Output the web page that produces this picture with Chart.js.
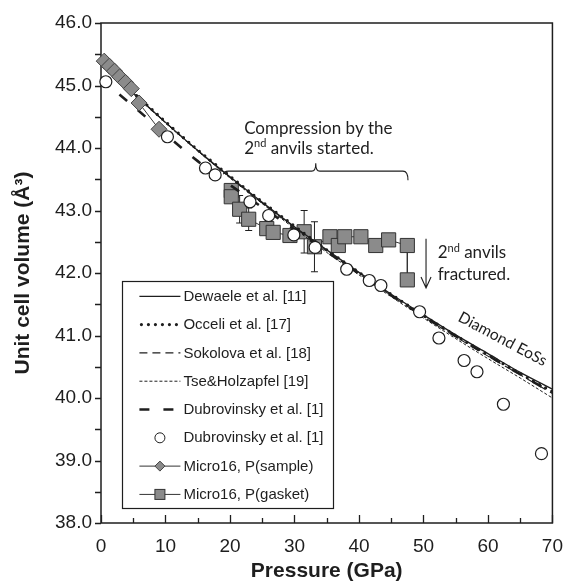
<!DOCTYPE html>
<html><head><meta charset="utf-8">
<script src="https://cdn.jsdelivr.net/npm/chart.js@4.4.0/dist/chart.umd.min.js"></script>
<style>html,body{margin:0;padding:0;background:#fff}#wrap{width:575px;height:584px}</style>
</head><body><div id="wrap"><canvas id="c" width="575" height="584"></canvas></div>
<script>
// ---- data ----
const eosPressure    = [0, 5, 10, 15, 20, 25, 30, 35, 40, 45, 50, 55, 60, 65, 70];
const dewaele        = [45.38, 44.88, 44.41, 43.96, 43.54, 43.13, 42.74, 42.37, 42.01, 41.66, 41.33, 41.01, 40.71, 40.41, 40.14];
const occeli         = [45.38, 44.89, 44.42, 43.97, 43.55, 43.14, 42.75, 42.37, 42.01, 41.66, 41.32, 41.00, 40.69, 40.39, 40.10];
const sokolova       = [45.38, 44.88, 44.41, 43.96, 43.53, 43.12, 42.73, 42.35, 41.99, 41.64, 41.30, 40.98, 40.67, 40.37, 40.07];
const tseHolzapfel   = [45.38, 44.88, 44.40, 43.95, 43.52, 43.11, 42.71, 42.33, 41.97, 41.62, 41.28, 40.95, 40.63, 40.32, 40.00];
const dubrovinskyEos = [45.10, 44.67, 44.22, 43.79, 43.41, 43.05, 42.70, 42.34, 41.99, 41.64, 41.31, 40.99, 40.68, 40.38, 40.08];

const dubrovinskyP = [0.75, 10.3, 16.2, 17.7, 23.1, 26.0, 29.9, 33.2, 38.1, 41.6, 43.4, 49.4, 52.4, 56.3, 58.3, 62.4, 68.3];
const dubrovinskyV = [45.06, 44.18, 43.68, 43.57, 43.14, 42.92, 42.61, 42.41, 42.06, 41.88, 41.80, 41.38, 40.96, 40.60, 40.42, 39.90, 39.11];

const sampleP = [0.5, 1.3, 2.1, 2.9, 3.8, 4.7, 5.9, 9.0];
const sampleV = [45.39, 45.31, 45.23, 45.14, 45.05, 44.95, 44.72, 44.30];

const gasketP   = [20.2, 20.2, 21.5, 22.9, 25.7, 26.7, 29.3, 31.5, 33.1, 35.5, 36.8, 37.8, 40.3, 42.6, 44.6, 47.5, 47.5];
const gasketV   = [43.32, 43.22, 43.02, 42.86, 42.71, 42.65, 42.60, 42.66, 42.42, 42.58, 42.44, 42.58, 42.58, 42.44, 42.53, 42.44, 41.89];
const gasketErr = [0, 0, 0.22, 0.18, 0, 0, 0, 0.34, 0.40, 0, 0, 0, 0, 0, 0, 0, 0];

const xTickValues = [0, 10, 20, 30, 40, 50, 60, 70];
const yTickValues = [38, 39, 40, 41, 42, 43, 44, 45, 46];

const legendLabels = ['Dewaele et al. [11]', 'Occeli et al. [17]', 'Sokolova et al. [18]', 'Tse&Holzapfel [19]',
  'Dubrovinsky et al. [1]', 'Dubrovinsky et al. [1]', 'Micro16, P(sample)', 'Micro16, P(gasket)'];

// ---- helpers ----
const pts = (xs, ys) => xs.map((x, i) => ({x: x, y: ys[i]}));
const INK = '#1e1e1e';
const GREY = '#8b8b8b';
const SANS = '"Liberation Sans", Arial, sans-serif';
const CAL = 'Lato, "Open Sans", sans-serif';

const lineDs = (label, ys, style) => Object.assign({
  label: label, data: pts(eosPressure, ys), showLine: true, pointRadius: 0,
  borderColor: INK, borderWidth: 1.1, fill: false, cubicInterpolationMode: 'monotone', order: 2
}, style);

const datasets = [
  lineDs('Dewaele et al. [11]', dewaele, {borderWidth: 1.3}),
  lineDs('Occeli et al. [17]', occeli, {borderWidth: 3.2, borderDash: [0, 7], borderCapStyle: 'round'}),
  lineDs('Sokolova et al. [18]', sokolova, {borderWidth: 1.1, borderDash: [8, 5]}),
  lineDs('Tse&Holzapfel [19]', tseHolzapfel, {borderWidth: 1, borderDash: [3, 2]}),
  lineDs('Dubrovinsky et al. [1]', dubrovinskyEos, {borderWidth: 2.6, borderDash: [10, 14]}),
  {
    label: 'Dubrovinsky et al. [1]', data: pts(dubrovinskyP, dubrovinskyV), showLine: false,
    pointStyle: 'circle', pointRadius: 6, pointBackgroundColor: '#fff', pointBorderColor: INK,
    pointBorderWidth: 1.2, order: 0, clip: false
  },
  {
    label: 'Micro16, P(sample)', data: pts(sampleP, sampleV), showLine: true,
    borderColor: '#333', borderWidth: 1, pointStyle: 'rectRot', pointRadius: 8,
    pointBackgroundColor: GREY, pointBorderColor: '#444', pointBorderWidth: 1, order: 1, clip: false
  },
  {
    label: 'Micro16, P(gasket)', data: pts(gasketP, gasketV), showLine: true,
    borderColor: '#333', borderWidth: 1, pointStyle: 'rect', pointRadius: 10,
    pointBackgroundColor: GREY, pointBorderColor: '#333', pointBorderWidth: 1, order: 3, clip: false
  }
];

// ---- plugins ----
const errorBars = {
  id: 'errorBars',
  beforeDatasetsDraw(chart) {
    const {ctx, scales: {x, y}} = chart;
    ctx.save();
    ctx.strokeStyle = INK; ctx.lineWidth = 1;
    gasketP.forEach((p, i) => {
      const e = gasketErr[i];
      if (!e) return;
      const px = x.getPixelForValue(p);
      const y1 = y.getPixelForValue(gasketV[i] + e), y2 = y.getPixelForValue(gasketV[i] - e);
      ctx.beginPath();
      ctx.moveTo(px, y1); ctx.lineTo(px, y2);
      ctx.moveTo(px - 3.5, y1); ctx.lineTo(px + 3.5, y1);
      ctx.moveTo(px - 3.5, y2); ctx.lineTo(px + 3.5, y2);
      ctx.stroke();
    });
    ctx.restore();
  }
};

const frameTicks = {
  id: 'frameTicks',
  beforeDatasetsDraw(chart) {
    const {ctx, chartArea: a, scales: {x, y}} = chart;
    ctx.save();
    ctx.strokeStyle = INK; ctx.lineWidth = 1.5;
    ctx.strokeRect(a.left, a.top, a.right - a.left, a.bottom - a.top);
    ctx.lineWidth = 1.3;
    ctx.beginPath();
    for (let p = x.min; p <= x.max + 1e-9; p += 5) {
      const px = Math.round(x.getPixelForValue(p)) + 0.5;
      const len = (Math.round(p) % 10 === 0) ? 8 : 5;
      ctx.moveTo(px, a.bottom); ctx.lineTo(px, a.bottom - len);
    }
    for (let v = y.min; v <= y.max + 1e-9; v += 0.5) {
      const py = Math.round(y.getPixelForValue(v)) + 0.5;
      ctx.moveTo(a.left, py); ctx.lineTo(a.left - 6, py);
    }
    ctx.stroke();
    ctx.restore();
  }
};

function supText(ctx, base, sup, rest, x0, y0, size) {
  ctx.font = size + 'px ' + CAL;
  ctx.fillText(base, x0, y0);
  let w = ctx.measureText(base).width;
  ctx.font = Math.round(size * 0.62) + 'px ' + CAL;
  ctx.fillText(sup, x0 + w, y0 - size * 0.38);
  w += ctx.measureText(sup).width;
  ctx.font = size + 'px ' + CAL;
  ctx.fillText(rest, x0 + w, y0);
}

const annotations = {
  id: 'annotations',
  afterDraw(chart) {
    const {ctx, scales: {x, y}} = chart;
    const X = p => x.getPixelForValue(p), Y = v => y.getPixelForValue(v);
    ctx.save();
    ctx.fillStyle = INK; ctx.strokeStyle = INK; ctx.textAlign = 'left'; ctx.textBaseline = 'alphabetic';
    // "Compression by the / 2nd anvils started."
    ctx.font = '17px ' + CAL;
    ctx.fillText('Compression by the', X(22.2), Y(44.225));
    supText(ctx, '2', 'nd', ' anvils started.', X(22.2), Y(43.905), 17);
    // brace
    const xl = X(19.0), xr = X(47.6), xc = X(33.3), y0 = Y(43.63);
    ctx.lineWidth = 1.1;
    ctx.beginPath();
    ctx.moveTo(xl, y0 + 3); ctx.quadraticCurveTo(xl, y0, xl + 5, y0);
    ctx.lineTo(xc - 4, y0); ctx.quadraticCurveTo(xc, y0, xc, y0 - 8);
    ctx.quadraticCurveTo(xc, y0, xc + 4, y0);
    ctx.lineTo(xr - 5, y0); ctx.quadraticCurveTo(xr, y0, xr, y0 + 9);
    ctx.stroke();
    // arrow
    const ax = X(50.4), ay1 = Y(42.55), ay2 = Y(41.76);
    ctx.beginPath();
    ctx.moveTo(ax, ay1); ctx.lineTo(ax, ay2);
    ctx.moveTo(ax - 5, ay2 - 11); ctx.lineTo(ax, ay2); ctx.lineTo(ax + 5, ay2 - 11);
    ctx.stroke();
    // "2nd anvils / fractured."
    supText(ctx, '2', 'nd', ' anvils', X(52.2), Y(42.236), 17);
    ctx.font = '17px ' + CAL;
    ctx.fillText('fractured.', X(52.2), Y(41.89));
    // Diamond EoSs
    ctx.translate(X(55.2), Y(41.24));
    ctx.rotate(28 * Math.PI / 180);
    ctx.font = '15.5px ' + CAL;
    ctx.fillText('Diamond EoSs', 0, 0);
    ctx.restore();
  }
};

const boxLegend = {
  id: 'boxLegend',
  afterDraw(chart) {
    const {ctx, scales: {x, y}} = chart;
    const left = x.getPixelForValue(3.32), top = y.getPixelForValue(41.875);
    const w = 211, h = 227, rowH = 28.3, firstRow = 15.5;
    ctx.save();
    ctx.fillStyle = '#fff';
    ctx.fillRect(left, top, w, h);
    ctx.strokeStyle = INK; ctx.lineWidth = 1.2;
    ctx.strokeRect(Math.round(left) + 0.5, Math.round(top) + 0.5, w, h);
    const sx0 = left + 17, sx1 = left + 58, tx = left + 61;
    chart.data.datasets.forEach((ds, i) => {
      const cy = top + firstRow + i * rowH;
      ctx.save();
      if (ds.showLine) {
        ctx.strokeStyle = ds.borderColor; ctx.lineWidth = ds.borderWidth;
        ctx.setLineDash(ds.borderDash || []);
        ctx.lineCap = ds.borderCapStyle || 'butt';
        ctx.beginPath();
        if (ds.borderDash && ds.borderDash[0] === 0) { ctx.moveTo(sx0 + 2, cy); ctx.lineTo(sx1 + 1, cy); }
        else { ctx.moveTo(sx0, cy); ctx.lineTo(sx1, cy); }
        ctx.stroke();
      }
      ctx.restore();
      const mx = (sx0 + sx1) / 2;
      ctx.save();
      ctx.lineWidth = 1; ctx.strokeStyle = ds.pointBorderColor || INK;
      if (ds.pointStyle === 'circle') {
        ctx.fillStyle = '#fff'; ctx.beginPath(); ctx.arc(mx, cy, 5, 0, Math.PI * 2); ctx.fill(); ctx.stroke();
      } else if (ds.pointStyle === 'rectRot') {
        ctx.fillStyle = GREY; ctx.beginPath();
        ctx.moveTo(mx, cy - 5); ctx.lineTo(mx + 5, cy); ctx.lineTo(mx, cy + 5); ctx.lineTo(mx - 5, cy); ctx.closePath();
        ctx.fill(); ctx.stroke();
      } else if (ds.pointStyle === 'rect') {
        ctx.fillStyle = GREY; ctx.fillRect(mx - 5, cy - 5, 10, 10); ctx.strokeRect(mx - 5, cy - 5, 10, 10);
      }
      ctx.restore();
      ctx.fillStyle = INK; ctx.font = '15px ' + SANS; ctx.textBaseline = 'middle'; ctx.textAlign = 'left';
      ctx.fillText(legendLabels[i], tx, cy + 0.5);
    });
    ctx.restore();
  }
};

new Chart(document.getElementById('c'), {
  type: 'scatter',
  data: {datasets: datasets},
  options: {
    responsive: false, animation: false, devicePixelRatio: 1,
    layout: {padding: {top: 23, right: 10, left: 0, bottom: 0}},
    plugins: {legend: {display: false}, tooltip: {enabled: false}},
    elements: {line: {tension: 0}},
    scales: {
      x: {
        type: 'linear', min: 0, max: 70,
        afterFit: s => { s.height = 61; },
        afterBuildTicks: s => { s.ticks = xTickValues.map(v => ({value: v})); },
        grid: {display: false, drawTicks: false}, border: {display: false},
        ticks: {color: INK, font: {family: SANS, size: 19}, padding: 12, autoSkip: false, maxRotation: 0,
          callback: v => String(v)},
        title: {display: true, text: 'Pressure (GPa)', color: INK,
          font: {family: SANS, size: 21, weight: 'bold'}, padding: {top: 0, bottom: 0}}
      },
      y: {
        type: 'linear', min: 38, max: 46,
        afterFit: s => { s.width = 101; },
        afterBuildTicks: s => { s.ticks = yTickValues.map(v => ({value: v})); },
        grid: {display: false, drawTicks: false}, border: {display: false},
        ticks: {color: INK, font: {family: SANS, size: 19}, padding: 9, autoSkip: false,
          callback: v => Number(v).toFixed(1)},
        title: {display: true, text: 'Unit cell volume (Å³)', color: INK,
          font: {family: SANS, size: 21, weight: 'bold'}, padding: {top: 11, bottom: 0}}
      }
    }
  },
  plugins: [frameTicks, errorBars, annotations, boxLegend]
});
</script>
</body></html>
